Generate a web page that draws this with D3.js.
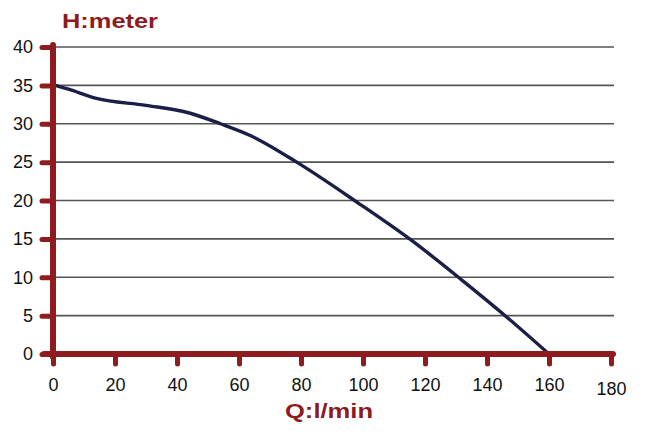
<!DOCTYPE html>
<html><head><meta charset="utf-8">
<script src="https://cdn.jsdelivr.net/npm/d3@7"></script>
<style>body{margin:0;background:#fff}svg{display:block}</style>
</head><body>
<script>
const flowQ = [0, 5, 14, 30, 44, 54, 64, 79, 98, 116, 132, 147, 160];
const headH = [35.1, 34.5, 33.3, 32.4, 31.4, 30, 28.4, 24.9, 19.8, 14.7, 9.6, 4.6, 0];
const xTicks = [0, 20, 40, 60, 80, 100, 120, 140, 160, 180];
const yTicks = [0, 5, 10, 15, 20, 25, 30, 35, 40];
const yTitle = "H:meter";
const xTitle = "Q:l/min";

const W = 651, H = 435;
const red = "#8e1b1e";
const font = "Liberation Sans, Arial, sans-serif";
const svg = d3.select("body").append("svg").attr("width", W).attr("height", H);
const x = d3.scaleLinear().domain([0, 180]).range([53, 611]);
const y = d3.scaleLinear().domain([0, 40]).range([354, 47]);

// grid
svg.append("g").selectAll("line").data(yTicks.filter(d => d > 0)).join("line")
  .attr("x1", 56).attr("x2", 614)
  .attr("y1", d => y(d)).attr("y2", d => y(d))
  .attr("stroke", "#555").attr("stroke-width", 1.6);

// curve
const pts = flowQ.map((q, i) => [q, headH[i]]);
svg.append("path").datum(pts)
  .attr("d", d3.line().x(d => x(d[0])).y(d => y(d[1])).curve(d3.curveMonotoneX))
  .attr("fill", "none").attr("stroke", "#1b1f45").attr("stroke-width", 3.4)
  .attr("stroke-linecap", "round");

// y axis
const yAxis = d3.axisLeft(y).tickValues(yTicks).tickSize(11).tickPadding(9);
const gy = svg.append("g").attr("transform", "translate(53,0)").call(yAxis);
gy.select(".domain").remove();
gy.selectAll(".tick line").attr("stroke", red).attr("stroke-width", 5).attr("stroke-linecap", "round");
gy.selectAll(".tick text").attr("fill", "#111").style("font-family", font).style("font-size", "18px");
svg.append("line").attr("x1", 53).attr("x2", 53).attr("y1", y(40) - 2).attr("y2", y(0) + 3)
  .attr("stroke", red).attr("stroke-width", 6).attr("stroke-linecap", "round");

// x axis
const xAxis = d3.axisBottom(x).tickValues(xTicks).tickSize(10).tickPadding(14);
const gx = svg.append("g").attr("transform", `translate(0,${y(0)})`).call(xAxis);
gx.select(".domain").remove();
gx.selectAll(".tick line").attr("stroke", red).attr("stroke-width", 5).attr("stroke-linecap", "round");
gx.selectAll(".tick text").attr("fill", "#111").style("font-family", font).style("font-size", "18px")
  .attr("dy", d => d === 180 ? "0.95em" : "0.71em");
svg.append("line").attr("x1", 44).attr("x2", 613).attr("y1", y(0)).attr("y2", y(0))
  .attr("stroke", red).attr("stroke-width", 6).attr("stroke-linecap", "round");

// titles
svg.append("text").attr("x", 62).attr("y", 28).text(yTitle)
  .attr("textLength", 96).attr("lengthAdjust", "spacingAndGlyphs")
  .attr("fill", red).style("font-family", font).style("font-weight", "bold").style("font-size", "21px");
svg.append("text").attr("x", 285).attr("y", 418).text(xTitle)
  .attr("textLength", 88).attr("lengthAdjust", "spacingAndGlyphs")
  .attr("fill", red).style("font-family", font).style("font-weight", "bold").style("font-size", "21px");
</script>
</body></html>
